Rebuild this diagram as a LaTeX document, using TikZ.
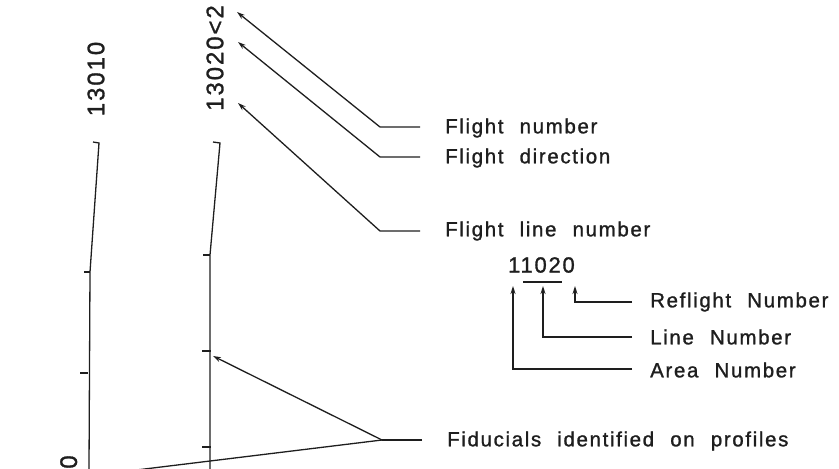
\documentclass[tikz,border=0pt]{standalone}
\usepackage{fontspec}
\newfontfamily\cadfont[LetterSpace=8,WordSpace={2.2,1,1},FakeBold=1.2]{Liberation Sans}
\usetikzlibrary{arrows.meta}
\definecolor{ink}{HTML}{1E1E1E}
\tikzset{
  prof/.style={draw=ink, line width=1.3pt},
  lead/.style={draw=ink, line width=1.3pt},
  arr/.style={lead, -{Stealth[length=8pt,width=5pt]}},
  lbl/.style={anchor=west, inner sep=0pt, text=ink, font=\cadfont\fontsize{20.5}{20.5}\selectfont},
  vlbl/.style={rotate=90, inner sep=0pt, text=ink, font=\cadfont\fontsize{24}{24}\selectfont},
}
\begin{document}
\begin{tikzpicture}[x=1pt,y=-1pt]
\useasboundingbox (0,0) rectangle (839,469);
% profiles
\draw[prof] (93,142) -- (99,143) -- (90,272) -- (89,469);
\draw[prof] (84,272) -- (90,272);
\draw[prof] (80,373) -- (88,373);
\draw[prof] (213,142) -- (220,143) -- (210,255) -- (210,469);
\draw[prof] (203,255) -- (210,255);
\draw[prof] (202,351) -- (211,351);
\draw[prof] (202,447) -- (211,447);
% rotated labels
\node[vlbl] (l13010) at (96,79) {13010};
\node[vlbl] (l13020) at (215,58) {13020<2};
\node[vlbl, anchor=north] (l0) at (60,462) {0};
% targets
\coordinate (tFN) at (237,12);
\coordinate (tFD) at (238,42);
\coordinate (tFL) at (238,103);
% leaders
\coordinate (kFN) at (380,127);
\coordinate (kFD) at (380,157);
\coordinate (kFL) at (380,231);
\node[lbl] (FN) at (445,128) {Flight number};
\node[lbl] (FD) at (445,158) {Flight direction};
\node[lbl] (FL) at (445,231) {Flight line number};
\draw[arr] (FN.west) ++(-25,-1) -- (kFN) -- (tFN);
\draw[arr] (FD.west) ++(-25,-1) -- (kFD) -- (tFD);
\draw[arr] (FL.west) ++(-25,0) -- (kFL) -- (tFL);
% code
\node[lbl, font=\cadfont\fontsize{22}{22}\selectfont] (code) at (508,265) {11020};
\draw[prof] (523,282) -- (562,282);
\node[lbl] (RN) at (650,302) {Reflight Number};
\node[lbl] (LN) at (650,337) {Line Number};
\node[lbl] (AN) at (650,370) {Area Number};
\draw[arr] (632,302) -- (575,302) -- (575,286);
\draw[arr] (632,337) -- (543,337) -- (543,286);
\draw[arr] (632,369) -- (513,369) -- (513,286);
% fiducials
\coordinate (kFi) at (382,440);
\node[lbl] (Fi) at (447,441) {Fiducials identified on profiles};
\draw[lead] (422,440) -- (kFi);
\draw[arr] (kFi) -- (213,356);
\draw[lead] (kFi) -- (120,472);
\end{tikzpicture}
\end{document}
